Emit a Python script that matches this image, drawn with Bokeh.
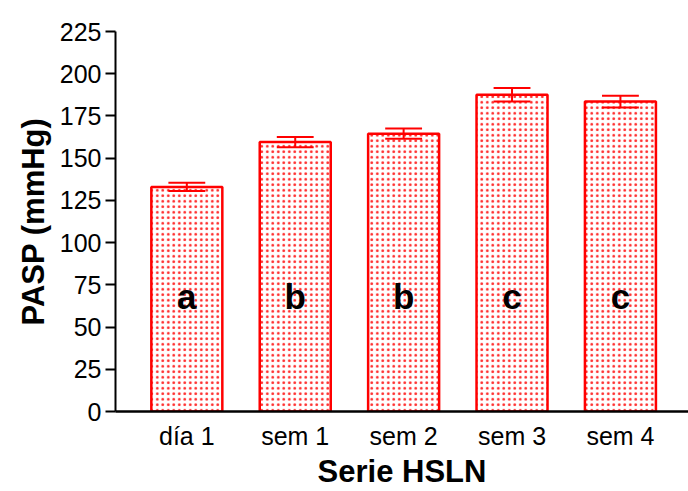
from bokeh.plotting import figure
from bokeh.models import Range1d, FixedTicker, ColumnDataSource
from bokeh.core.properties import value
from bokeh.embed import file_html
from bokeh.resources import INLINE

categories = ["día 1", "sem 1", "sem 2", "sem 3", "sem 4"]
means = [133.0, 159.5, 164.5, 187.5, 183.5]
errors = [2.5, 3.0, 3.0, 4.0, 3.5]
letters = ["a", "b", "b", "c", "c"]
letter_y = 68
y_ticks = [0, 25, 50, 75, 100, 125, 150, 175, 200, 225]

xs = list(range(len(categories)))
lo = [m - e for m, e in zip(means, errors)]
hi = [m + e for m, e in zip(means, errors)]
cap_w = 0.17
src = ColumnDataSource(dict(x=xs, top=means, lo=lo, hi=hi,
                            xl=[x - cap_w for x in xs], xr=[x + cap_w for x in xs],
                            lab=letters, ly=[letter_y] * len(xs)))

p = figure(width=688, height=491, output_backend="svg", toolbar_location=None,
           x_range=Range1d(-0.658, 4.628), y_range=Range1d(0, 225),
           min_border_left=115, min_border_right=0, min_border_top=31, min_border_bottom=80)
p.outline_line_color = None
p.xgrid.grid_line_color = None
p.ygrid.grid_line_color = None
p.background_fill_color = "white"

p.vbar(x="x", top="top", bottom=0, width=0.655, source=src,
       fill_color="white", line_color="red", line_width=2.5,
       hatch_pattern="dot", hatch_color="red", hatch_scale=5.5, hatch_weight=0.9,
       hatch_alpha=0.85)

p.segment(x0="x", y0="lo", x1="x", y1="hi", source=src, line_color="red", line_width=2)
p.segment(x0="xl", y0="hi", x1="xr", y1="hi", source=src, line_color="red", line_width=2)
p.segment(x0="xl", y0="lo", x1="xr", y1="lo", source=src, line_color="red", line_width=2)

p.text(x="x", y="ly", text="lab", source=src, text_align="center", text_baseline="alphabetic",
       text_font=value("Liberation Sans"), text_font_style="bold", text_font_size="35px",
       text_color="black")

ya = p.yaxis[0]
ya.ticker = FixedTicker(ticks=y_ticks)
ya.axis_line_width = 2
ya.axis_line_color = "black"
ya.major_tick_line_width = 2
ya.major_tick_out = 10
ya.major_tick_in = 0
ya.minor_tick_out = 0
ya.minor_tick_in = 0
ya.major_label_text_font = "Liberation Sans"
ya.major_label_text_font_size = "25px"
ya.major_label_text_color = "black"
ya.major_label_standoff = 4
ya.axis_label = "PASP (mmHg)"
ya.axis_label_text_font = "Liberation Sans"
ya.axis_label_text_font_style = "bold"
ya.axis_label_text_font_size = "31px"
ya.axis_label_text_color = "black"
ya.axis_label_standoff = 6

xa = p.xaxis[0]
xa.ticker = FixedTicker(ticks=xs)
xa.major_label_overrides = {i: c for i, c in enumerate(categories)}
xa.axis_line_width = 2.5
xa.axis_line_color = "black"
xa.major_tick_out = 0
xa.major_tick_in = 0
xa.minor_tick_out = 0
xa.minor_tick_in = 0
xa.major_label_text_font = "Liberation Sans"
xa.major_label_text_font_size = "25px"
xa.major_label_text_color = "black"
xa.major_label_standoff = 10
xa.axis_label = "Serie HSLN"
xa.axis_label_text_font = "Liberation Sans"
xa.axis_label_text_font_style = "bold"
xa.axis_label_text_font_size = "31px"
xa.axis_label_text_color = "black"
xa.axis_label_standoff = 1

open("out.html", "w").write(file_html(p, INLINE))
